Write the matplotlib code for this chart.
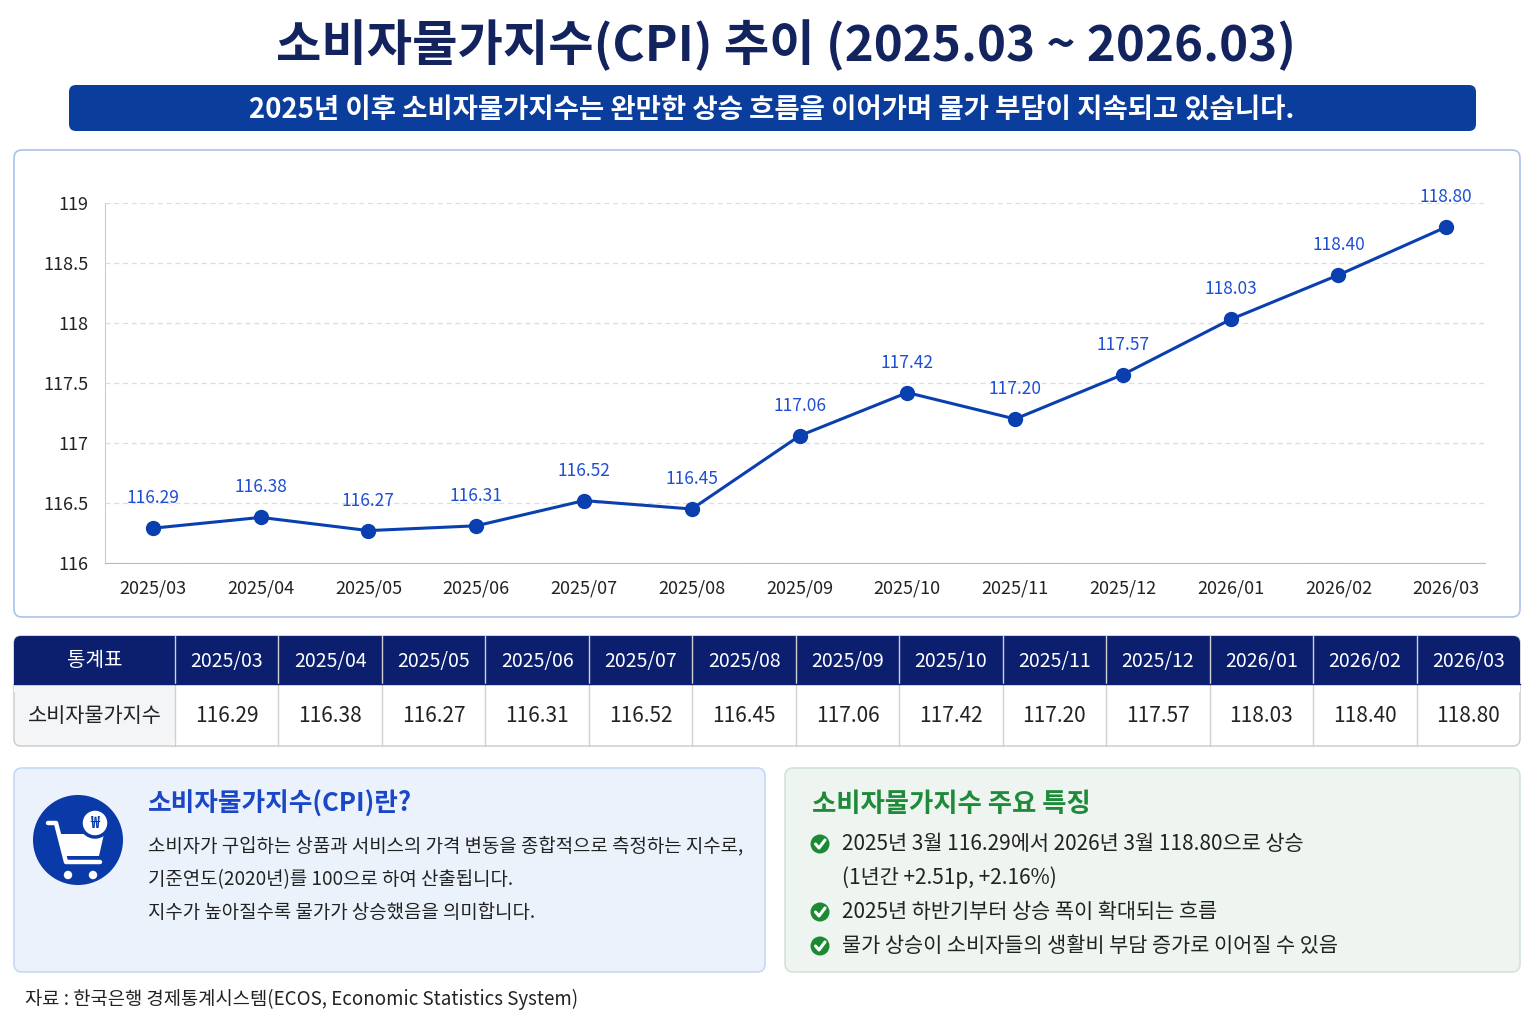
import matplotlib
matplotlib.use('Agg')
from matplotlib import pyplot as plt
from matplotlib.patches import FancyBboxPatch, Rectangle, Circle, Polygon

plt.rcParams['font.family'] = ['Noto Sans CJK KR', 'DejaVu Sans']

# 데이터
months = ['2025/03', '2025/04', '2025/05', '2025/06', '2025/07', '2025/08', '2025/09',
          '2025/10', '2025/11', '2025/12', '2026/01', '2026/02', '2026/03']
cpi = [116.29, 116.38, 116.27, 116.31, 116.52, 116.45, 117.06,
       117.42, 117.20, 117.57, 118.03, 118.40, 118.80]
yticks = [116, 116.5, 117, 117.5, 118, 118.5, 119]

title = '소비자물가지수(CPI) 추이 (2025.03 ~ 2026.03)'
subtitle = '2025년 이후 소비자물가지수는 완만한 상승 흐름을 이어가며 물가 부담이 지속되고 있습니다.'
row_head = '통계표'
row_name = '소비자물가지수'
info_title = '소비자물가지수(CPI)란?'
info_lines = ['소비자가 구입하는 상품과 서비스의 가격 변동을 종합적으로 측정하는 지수로,',
              '기준연도(2020년)를 100으로 하여 산출됩니다.',
              '지수가 높아질수록 물가가 상승했음을 의미합니다.']
feat_title = '소비자물가지수 주요 특징'
feat_lines = [['2025년 3월 116.29에서 2026년 3월 118.80으로 상승', '(1년간 +2.51p, +2.16%)'],
              ['2025년 하반기부터 상승 폭이 확대되는 흐름'],
              ['물가 상승이 소비자들의 생활비 부담 증가로 이어질 수 있음']]
source = '자료 : 한국은행 경제통계시스템(ECOS, Economic Statistics System)'

W, H = 1536, 1024
NAVY = '#13235e'
BLUE = '#0a3fb0'
LBLUE = '#1e4fd2'

fig = plt.figure(figsize=(W / 100, H / 100), dpi=100)
fig.patch.set_facecolor('white')

# 배경용 축 (픽셀 좌표)
bg = fig.add_axes([0, 0, 1, 1])
bg.set_xlim(0, W)
bg.set_ylim(H, 0)
bg.axis('off')


def rbox(x0, y0, x1, y1, fc, ec='none', lw=1, r=8, z=1):
    p = FancyBboxPatch((x0, y0), x1 - x0, y1 - y0,
                       boxstyle='round,pad=0,rounding_size=%d' % r,
                       fc=fc, ec=ec, lw=lw, zorder=z)
    bg.add_patch(p)


# 제목
bg.text(786, 45, title, ha='center', va='center', fontsize=35.5,
        fontweight='bold', color=NAVY)
rbox(69, 85, 1476, 131, '#0b3d9c', r=7)
bg.text(772, 110, subtitle, ha='center', va='center', fontsize=19.8,
        fontweight='bold', color='white')

# 차트 패널
rbox(14, 150, 1520, 617, 'white', ec='#a9c3ee', lw=1.2, r=8)

ax = fig.add_axes([105 / W, (H - 563) / H, 1380 / W, 360 / H])
x = list(range(len(months)))
ax.plot(x, cpi, color=BLUE, lw=2.2, marker='o', ms=10, mfc=BLUE, mec=BLUE, zorder=3)
for i, v in enumerate(cpi):
    ax.annotate('%.2f' % v, (i, v), xytext=(0, 30), textcoords='offset pixels',
                ha='center', va='center', fontsize=12.5, color=LBLUE)
ax.set_xlim(-0.445, 12.36)
ax.set_ylim(116, 119)
ax.set_yticks(yticks)
ax.set_yticklabels(['%g' % t for t in yticks])
ax.set_xticks(x)
ax.set_xticklabels(months)
ax.tick_params(length=0, labelsize=13, colors='#222222')
ax.tick_params(axis='x', pad=12)
ax.tick_params(axis='y', pad=12)
ax.grid(axis='y', ls=(0, (4, 3)), color='#dddddd', lw=0.9)
ax.set_axisbelow(True)
for s in ['top', 'right']:
    ax.spines[s].set_visible(False)
ax.spines['left'].set_color('#cccccc')
ax.spines['bottom'].set_color('#bbbbbb')
ax.patch.set_alpha(0)

# 통계표
tx0, tx1, ty0, ty1, ty2 = 14, 1520, 636, 684, 746
c0 = 175
cw = (tx1 - c0) / len(months)
rbox(tx0, ty0, tx1, ty2, 'white', ec='#c8c8c8', lw=1, r=7)
rbox(tx0, ty0, tx1, ty1 + 8, '#0c1f6e', r=7, z=2)
bg.add_patch(Rectangle((tx0, ty1), tx1 - tx0, 8, fc='white', ec='none', zorder=2))
bg.add_patch(Rectangle((tx0 + 1, ty1), c0 - tx0 - 1, ty2 - ty1 - 7, fc='#f4f5f7', ec='none', zorder=2))
bg.add_patch(FancyBboxPatch((tx0 + 1, ty2 - 14), c0 - tx0 - 1, 13,
                            boxstyle='round,pad=0,rounding_size=6', fc='#f4f5f7', ec='none', zorder=2))
bg.text((tx0 + c0) / 2, (ty0 + ty1) / 2 + 1, row_head, ha='center', va='center',
        fontsize=14.5, color='white', zorder=4)
bg.text((tx0 + c0) / 2, (ty1 + ty2) / 2 + 1, row_name, ha='center', va='center',
        fontsize=15, color='#222222', zorder=4)
bg.plot([c0, c0], [ty0, ty2], color='#d0d0d0', lw=1, zorder=3)
for i, (m, v) in enumerate(zip(months, cpi)):
    cx = c0 + cw * (i + 0.5)
    if i > 0:
        bg.plot([c0 + cw * i] * 2, [ty0, ty2], color='#d0d0d0', lw=1, zorder=3)
    bg.text(cx, (ty0 + ty1) / 2 + 1, m, ha='center', va='center', fontsize=14,
            color='white', zorder=4)
    bg.text(cx, (ty1 + ty2) / 2 + 1, '%.2f' % v, ha='center', va='center',
            fontsize=15, color='#222222', zorder=4)
bg.plot([tx0, tx1], [ty1, ty1], color='#0c1f6e', lw=1, zorder=3)

# 왼쪽 설명 패널
rbox(14, 768, 765, 972, '#ebf2fc', ec='#c6d8f3', lw=1.2, r=8)
bg.add_patch(Circle((78, 840), 45, fc='#0a3aa8', ec='none', zorder=3))
# 카트 아이콘
bg.plot([48, 56, 66, 100], [823, 823, 862, 862], color='white', lw=3.2,
        solid_capstyle='round', solid_joinstyle='round', zorder=4)
bg.add_patch(Polygon([(58, 834), (104, 834), (99, 856), (63, 856)], closed=True,
                     fc='white', ec='none', zorder=4))
bg.add_patch(Circle((68, 875), 4.2, fc='white', zorder=4))
bg.add_patch(Circle((93, 875), 4.2, fc='white', zorder=4))
bg.add_patch(Circle((95, 823), 14, fc='white', ec='#0a3aa8', lw=2.5, zorder=5))
bg.text(95, 823.5, '₩', ha='center', va='center', fontsize=11, fontweight='bold',
        color='#0a3aa8', zorder=6)

bg.text(148, 804, info_title, ha='left', va='center', fontsize=18.5,
        fontweight='bold', color='#1a47c8', zorder=4)
for k, ln in enumerate(info_lines):
    bg.text(148, 846 + k * 33.5, ln, ha='left', va='center', fontsize=13.6,
            color='#222222', zorder=4)

# 오른쪽 특징 패널
rbox(785, 768, 1520, 972, '#eef4f0', ec='#d3e4d8', lw=1.2, r=8)
bg.text(812, 804, feat_title, ha='left', va='center', fontsize=19,
        fontweight='bold', color='#1f8a3a', zorder=4)
yy = 844
for item in feat_lines:
    bg.add_patch(Circle((820, yy), 9.5, fc='#1c8a35', ec='none', zorder=4))
    bg.plot([815.5, 819, 825], [yy, yy + 4, yy - 4], color='white', lw=2.2,
            solid_capstyle='round', solid_joinstyle='round', zorder=5)
    for ln in item:
        bg.text(842, yy, ln, ha='left', va='center', fontsize=15,
                color='#222222', zorder=4)
        yy += 34

# 출처
bg.text(25, 999, source, ha='left', va='center', fontsize=13.5, color='#222222')

fig.savefig('out.png', dpi=100, facecolor='white')
